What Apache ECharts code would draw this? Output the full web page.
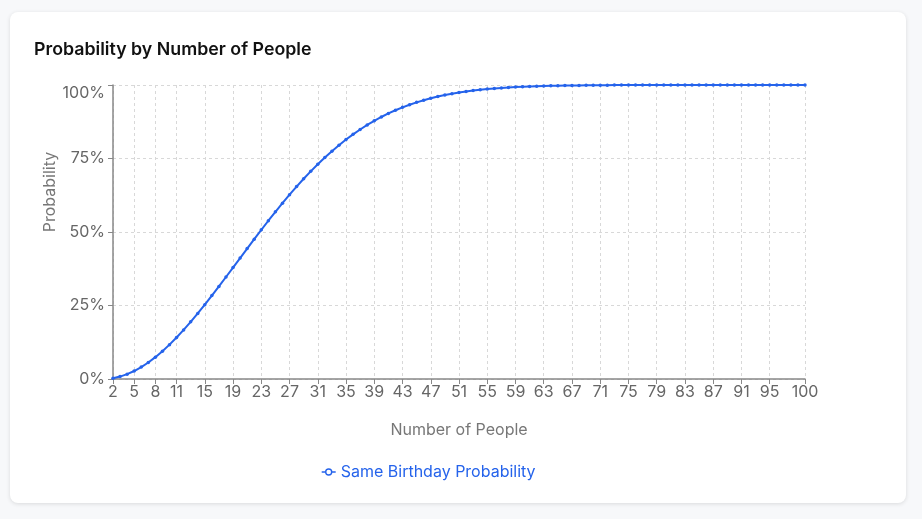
<!DOCTYPE html>
<html>
<head>
<meta charset="utf-8">
<script src="https://cdn.jsdelivr.net/npm/echarts@6/dist/echarts.min.js"></script>
<style>
  html, body { margin: 0; padding: 0; background: #f7f8fa; width: 922px; height: 519px; overflow: hidden; }
  #card { position: absolute; left: 10px; top: 12px; width: 896px; height: 491px; background: #fff; border-radius: 8px; box-shadow: 0 1px 4px rgba(0,0,0,0.12); }
  #chart { width: 896px; height: 491px; }
</style>
</head>
<body>
<div id="card"><div id="chart"></div></div>
<script>
const titleText = 'Probability by Number of People';
const seriesName = 'Same Birthday Probability';
const xAxisName = 'Number of People';
const yAxisName = 'Probability';
const people = [2,3,4,5,6,7,8,9,10,11,12,13,14,15,16,17,18,19,20,21,22,23,24,25,26,27,28,29,30,31,32,33,34,35,36,37,38,39,40,41,42,43,44,45,46,47,48,49,50,51,52,53,54,55,56,57,58,59,60,61,62,63,64,65,66,67,68,69,70,71,72,73,74,75,76,77,78,79,80,81,82,83,84,85,86,87,88,89,90,91,92,93,94,95,96,97,98,99,100];
const probability = [0.0027,0.0082,0.0164,0.0271,0.0405,0.0562,0.0743,0.0946,0.1169,0.1411,0.1670,0.1944,0.2231,0.2529,0.2836,0.3150,0.3469,0.3791,0.4114,0.4437,0.4757,0.5073,0.5383,0.5687,0.5982,0.6269,0.6545,0.6810,0.7063,0.7305,0.7533,0.7750,0.7953,0.8144,0.8322,0.8487,0.8641,0.8782,0.8912,0.9032,0.9140,0.9239,0.9329,0.9410,0.9483,0.9548,0.9606,0.9658,0.9704,0.9744,0.9780,0.9811,0.9839,0.9863,0.9883,0.9901,0.9917,0.9930,0.9941,0.9951,0.9959,0.9966,0.9972,0.9977,0.9981,0.9984,0.9987,0.9990,0.9992,0.9993,0.9995,0.9996,0.9996,0.9997,0.9998,0.9998,0.9999,0.9999,0.9999,0.9999,0.9999,1.0000,1.0000,1.0000,1.0000,1.0000,1.0000,1.0000,1.0000,1.0000,1.0000,1.0000,1.0000,1.0000,1.0000,1.0000,1.0000,1.0000,1.0000];
const xTickLabels = [2,5,8,11,15,19,23,27,31,35,39,43,47,51,55,59,63,67,71,75,79,83,87,91,95,100];

const FONT = 'Inter, "Noto Sans", sans-serif';
const BLUE = '#2563eb';
const showTick = (idx, val) => xTickLabels.indexOf(Number(val)) >= 0;

const chart = echarts.init(document.getElementById('chart'), null, { renderer: 'canvas' });
chart.setOption({
  animation: false,
  textStyle: { fontFamily: FONT },
  title: {
    text: titleText, left: 19, top: 24,
    textStyle: { fontFamily: FONT, fontSize: 17.8, fontWeight: 600, color: '#111' }
  },
  grid: { left: 103, right: 101, top: 73, bottom: 124, containLabel: false },
  legend: {
    data: [seriesName], left: 306, top: 447,
    itemWidth: 14, itemHeight: 8, itemGap: 5,
    icon: 'path://M0,4 L4,4 M10,4 L14,4 M10,4 A3,3 0 1 1 4,4 A3,3 0 1 1 10,4 Z',
    itemStyle: { color: '#fff', borderColor: BLUE, borderWidth: 1.4 },
    textStyle: { fontFamily: FONT, fontSize: 16, color: BLUE }
  },
  xAxis: {
    type: 'category', data: people, boundaryGap: false,
    name: xAxisName, nameLocation: 'middle', nameGap: 43,
    nameTextStyle: { fontFamily: FONT, fontSize: 16, color: '#777' },
    axisLine: { lineStyle: { color: '#888', width: 1.5 } },
    axisTick: { show: true, interval: showTick, length: 5, lineStyle: { color: '#888' } },
    axisLabel: { interval: showTick, fontFamily: FONT, fontSize: 16, color: '#666', margin: 5 },
    splitLine: { show: true, interval: showTick, lineStyle: { color: '#d8d8d8', type: [3, 3] } }
  },
  yAxis: {
    type: 'value', min: 0, max: 1, interval: 0.25,
    axisLine: { show: true, lineStyle: { color: '#888', width: 1.5 } },
    axisTick: { show: true, length: 5, lineStyle: { color: '#888' } },
    axisLabel: {
      fontFamily: FONT, fontSize: 16, color: '#666', margin: 8,
      formatter: v => v === 1 ? '{top|100%}' : Math.round(v * 100) + '%',
      rich: { top: { fontFamily: FONT, fontSize: 16, color: '#666', padding: [16, 0, 0, 0] } }
    },
    splitLine: { show: true, lineStyle: { color: '#d8d8d8', type: [3, 3] } }
  },
  graphic: [{
    type: 'text', x: 40, y: 180, rotation: Math.PI / 2,
    style: { text: yAxisName, fontFamily: FONT, fontSize: 16, fill: '#777', textAlign: 'center', textVerticalAlign: 'middle' }
  }],
  series: [{
    name: seriesName, type: 'line', data: probability,
    symbol: 'circle', symbolSize: 3.5, showSymbol: true,
    lineStyle: { color: BLUE, width: 2 },
    itemStyle: { color: BLUE }
  }]
});
</script>
</body>
</html>
